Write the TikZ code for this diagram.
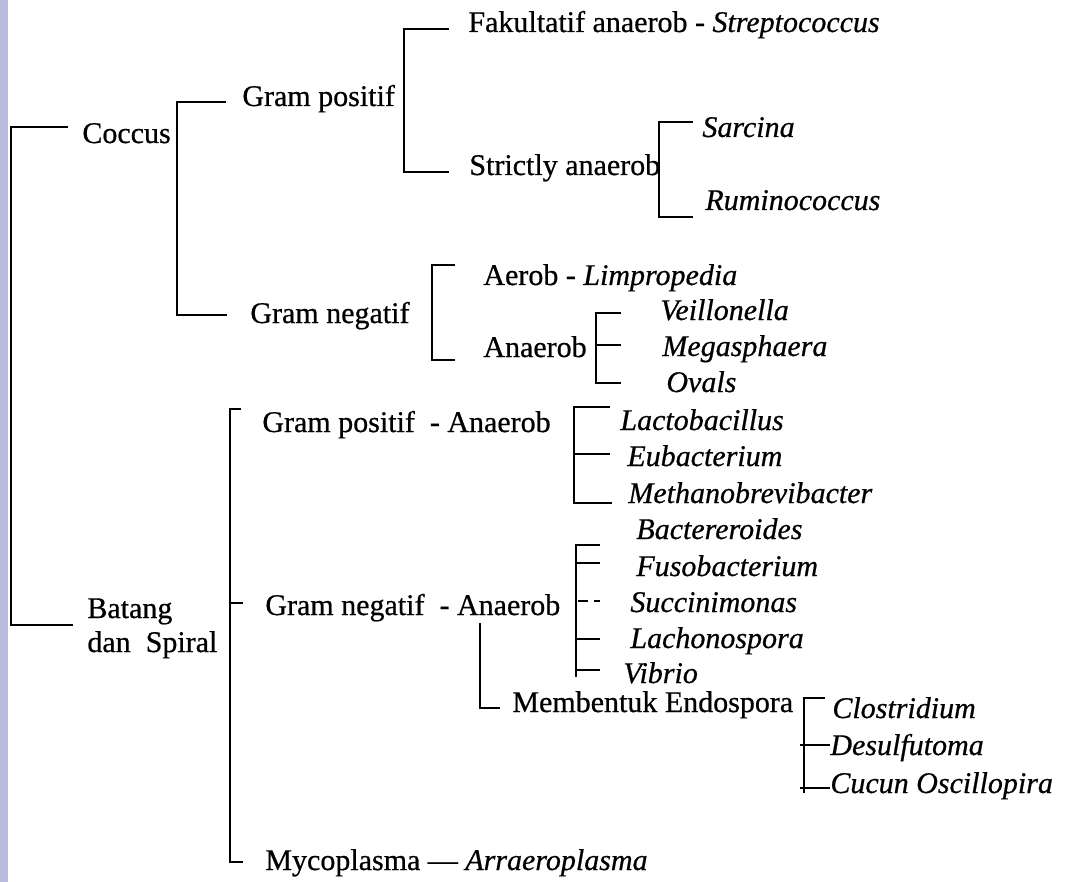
\documentclass[tikz,border=0pt]{standalone}
\usepackage{fontspec}
\setmainfont{Liberation Serif}[FakeBold=0.6]
\definecolor{sidebar}{RGB}{185,189,222}

\begin{document}
\begin{tikzpicture}[x=0.5pt, y=-0.5pt,
  every node/.style={font=\fontsize{15}{18}\selectfont, anchor=base west, inner sep=0pt},
  brk/.style={line width=1.15pt}]
  % canvas and side strip
  \useasboundingbox (0,0) rectangle (1070,882);
  \fill[white] (0,0) rectangle (1070,882);
  \fill[sidebar] (0,0) rectangle (8,882);

  % root split
  \draw[brk] (68,127) -| (11,625) -- (73,625);
  \node (coccus) at (82,143) {Coccus};
  \node (batang) at (87,618) {Batang};
  \node (spiral) at (87,652) {dan~~Spiral};

  % coccus branch
  \draw[brk] (226,102) -| (177,315) -- (227,315);
  \node (gpos) at (242,106) {Gram positif};
  \node (gneg) at (250,323) {Gram negatif};

  % gram positif coccus
  \draw[brk] (449,29) -| (404,172) -- (449,172);
  \node (fakul) at (468,32) {Fakultatif anaerob - \textit{Streptococcus}};
  \node (strict) at (469,175) {Strictly anaerob};
  \draw[brk] (693,122) -| (659,217) -- (693,217);
  \node (sarcina) at (702,137) {\textit{Sarcina}};
  \node (rumino) at (705,210) {\textit{Ruminococcus}};

  % gram negatif coccus
  \draw[brk] (455,265) -| (432,360) -- (455,360);
  \node (aerob) at (483,285) {Aerob - \textit{Limpropedia}};
  \node (anaerob) at (483,357) {Anaerob};
  \draw[brk] (621,313) -| (596,383) -- (621,383);
  \draw[brk] (596,345) -- (621,345);
  \node (veil) at (660,320) {\textit{Veillonella}};
  \node (mega) at (662,356) {\textit{Megasphaera}};
  \node (ovals) at (666,392) {\textit{Ovals}};

  % batang dan spiral branch
  \draw[brk] (241,409) -| (230,862) -- (243,862);
  \draw[brk] (230,603) -- (243,603);
  \node (gposan) at (262,432) {Gram positif~ - Anaerob};
  \node (gnegan) at (265,615) {Gram negatif~ - Anaerob};
  \node (myco) at (265,870) {Mycoplasma --- \textit{Arraeroplasma}};

  % gram positif anaerob
  \draw[brk] (610,407) -| (574,503) -- (612,503);
  \draw[brk] (574,454) -- (610,454);
  \node (lacto) at (620,430) {\textit{Lactobacillus}};
  \node (eubac) at (627,466) {\textit{Eubacterium}};
  \node (metha) at (628,503) {\textit{Methanobrevibacter}};

  % gram negatif anaerob
  \draw[brk] (600,545) -| (576,677);
  \foreach \yy in {563,639,670}
    \draw[brk] (576,\yy) -- (600,\yy);
  \draw[brk, dash pattern=on 5pt off 3pt] (578,601) -- (600,601);
  \node (bacte) at (636,539) {\textit{Bactereroides}};
  \node (fuso) at (636,576) {\textit{Fusobacterium}};
  \node (succi) at (630,612) {\textit{Succinimonas}};
  \node (lacho) at (630,648) {\textit{Lachonospora}};
  \node (vibrio) at (623,683) {\textit{Vibrio}};

  % endospora
  \draw[brk] (480,623) |- (500,708);
  \node (endo) at (512,712) {Membentuk Endospora};
  \draw[brk] (825,698) -| (804,793);
  \draw[brk] (800,745) -- (830,745);
  \draw[brk] (800,788) -- (830,788);
  \node (clost) at (832,718) {\textit{Clostridium}};
  \node (desul) at (830,755) {\textit{Desulfutoma}};
  \node (cucun) at (830,793) {\textit{Cucun Oscillopira}};
\end{tikzpicture}
\end{document}
